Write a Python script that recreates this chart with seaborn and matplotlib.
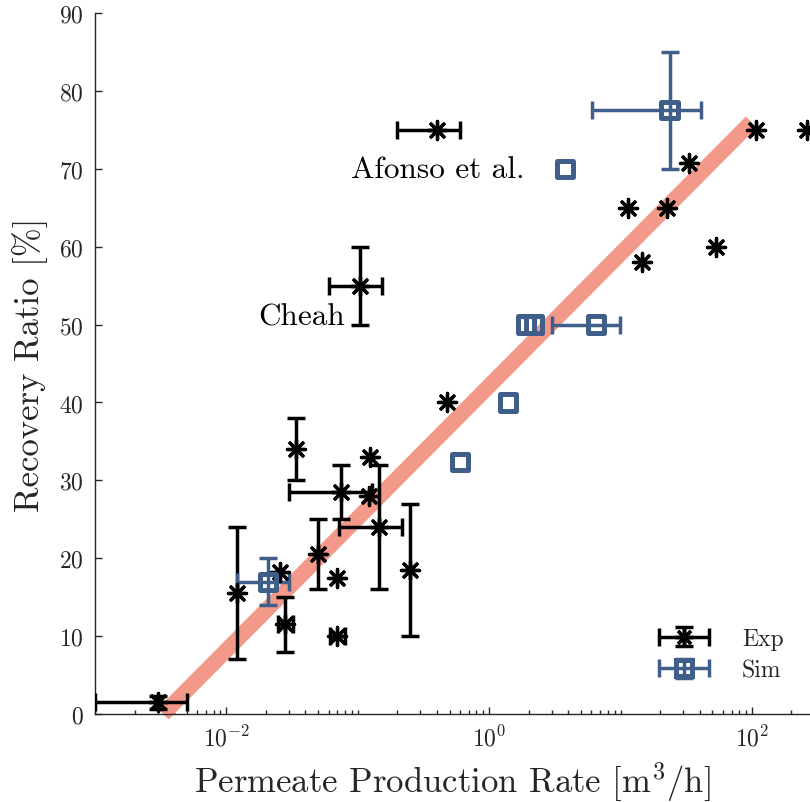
import numpy as np
import pandas as pd
import matplotlib
matplotlib.use("Agg")
import matplotlib.pyplot as plt
import seaborn as sns
from matplotlib.ticker import LogLocator, LogFormatterMathtext, MultipleLocator, NullFormatter
from matplotlib.lines import Line2D
from matplotlib.container import ErrorbarContainer
from matplotlib.legend_handler import HandlerErrorbar

nan = np.nan

# Experimental data (value, bar low end, bar high end)
exp_x = [0.0030, 0.012, 0.034, 0.074, 0.124, 0.122, 0.145, 0.050, 0.070, 0.0256,
         0.0279, 0.070, 0.25, 0.104, 0.40, 0.476, 11.3, 22.6, 33.0, 14.6, 53.7, 108, 263]
exp_y = [1.5, 15.5, 34.0, 28.5, 33.0, 28.0, 24.0, 20.5, 17.5, 18.2,
         11.5, 10.0, 18.5, 55.0, 75.0, 40.0, 65.0, 65.0, 70.8, 58.0, 60.0, 75.0, 75.0]
exp_x_lo = [0.001, nan, nan, 0.030, nan, nan, 0.072, nan, nan, nan,
            0.0246, 0.0615, nan, 0.060, 0.198, nan, nan, nan, nan, nan, nan, nan, nan]
exp_x_hi = [0.005, nan, nan, 0.129, nan, nan, 0.216, nan, nan, nan,
            0.0319, 0.080, nan, 0.152, 0.60, nan, nan, nan, nan, nan, nan, nan, nan]
exp_y_lo = [0.65, 7.0, 30.0, 25.0, nan, nan, 16.0, 16.0, nan, nan,
            8.0, nan, 10.0, 50.0, nan, nan, nan, nan, nan, nan, nan, nan, nan]
exp_y_hi = [2.35, 24.0, 38.0, 32.0, nan, nan, 32.0, 25.0, nan, nan,
            15.0, nan, 27.0, 60.0, nan, nan, nan, nan, nan, nan, nan, nan, nan]

# Simulation data
sim_x = [0.0208, 1.91, 2.20, 6.53, 1.39, 0.60, 3.75, 23.6]
sim_y = [17.0, 50.0, 50.0, 50.0, 40.0, 32.3, 70.0, 77.5]
sim_x_lo = [0.0120, nan, nan, 3.0, nan, nan, nan, 6.06]
sim_x_hi = [0.030, nan, nan, 9.95, nan, nan, nan, 41.2]
sim_y_lo = [14.0, nan, nan, nan, nan, nan, nan, 70.0]
sim_y_hi = [20.0, nan, nan, nan, nan, nan, nan, 85.0]

# Trend line end points
fit_x = [0.0033, 99.0]
fit_y = [0.0, 76.0]

annot_text = ["Cheah", "Afonso et al."]
annot_x = [0.080, 1.85]
annot_y = [51.0, 70.0]

sns.set_theme(style="ticks")
plt.rcParams.update({
    "font.family": "cmr10",
    "mathtext.fontset": "cm",
    "axes.formatter.use_mathtext": True,
    "axes.unicode_minus": False,
})

GRAY = "#262626"
BLUE = "#3f5e8a"
SALMON = "#f3998a"
EB = dict(elinewidth=2.5, capsize=6.8, capthick=2.5)


def errs(v, lo, hi):
    v = np.asarray(v, float)
    return np.vstack([v - np.asarray(lo, float), np.asarray(hi, float) - v])


fig = plt.figure(figsize=(8.1, 8.03), dpi=100)
ax = fig.add_axes([95 / 810, 88 / 803, 715 / 810, 701 / 803])
ax.set_xscale("log")

fit_df = pd.DataFrame({"x": fit_x, "y": fit_y})
sns.lineplot(data=fit_df, x="x", y="y", ax=ax, color=SALMON, linewidth=11.2,
             solid_capstyle="butt", zorder=1, clip_on=False)

ax.errorbar(exp_x, exp_y,
            xerr=errs(exp_x, exp_x_lo, exp_x_hi),
            yerr=errs(exp_y, exp_y_lo, exp_y_hi),
            fmt="none", ecolor="black", zorder=3, **EB)
ax.errorbar(sim_x, sim_y,
            xerr=errs(sim_x, sim_x_lo, sim_x_hi),
            yerr=errs(sim_y, sim_y_lo, sim_y_hi),
            fmt="none", ecolor=BLUE, zorder=3, **EB)
exp_df = pd.DataFrame({"x": exp_x, "y": exp_y})
sim_df = pd.DataFrame({"x": sim_x, "y": sim_y})
sns.scatterplot(data=exp_df, x="x", y="y", ax=ax, marker=(8, 2, 0), s=170,
                color="black", edgecolor="black", linewidth=2.4, zorder=4, legend=False)
sns.scatterplot(data=sim_df, x="x", y="y", ax=ax, marker="s", s=135,
                facecolor="none", edgecolor=BLUE, linewidth=3.6, zorder=4, legend=False)

# Legend handles drawn as error-bar glyphs
h_exp = ax.errorbar([nan], [nan], xerr=[1], yerr=[1], fmt="none", ecolor="black", **EB)
h_sim = ax.errorbar([nan], [nan], xerr=[1], yerr=[1], fmt="none", ecolor=BLUE, **EB)
m_exp = Line2D([], [], linestyle="none", marker=(8, 2, 0), markersize=13,
               color="black", markeredgewidth=2.4)
m_sim = Line2D([], [], linestyle="none", marker="s", markersize=11.6,
               markerfacecolor="none", markeredgecolor=BLUE, markeredgewidth=3.6)
c_exp = ErrorbarContainer((m_exp, h_exp.lines[1], h_exp.lines[2]),
                          has_xerr=True, has_yerr=True, label="Exp")
c_sim = ErrorbarContainer((m_sim, h_sim.lines[1], h_sim.lines[2]),
                          has_xerr=True, has_yerr=True, label="Sim")
leg = ax.legend([c_exp, c_sim], ["Exp", "Sim"], loc="lower right",
                bbox_to_anchor=((793 - 95) / 715, (715 - 692) / 701),
                borderaxespad=0, frameon=False, fontsize=17,
                handlelength=2.3, handletextpad=1.3, labelspacing=0.4,
                handler_map={ErrorbarContainer: HandlerErrorbar(xerr_size=1.05, yerr_size=0.4)})

for t, x, y in zip(annot_text, annot_x, annot_y):
    ax.text(x, y, t, ha="right", va="center", fontsize=22.5, color="black")

ax.set_xlim(1e-3, 10 ** 2.442)
ax.set_ylim(0, 90)
ax.yaxis.set_major_locator(MultipleLocator(10))
ax.xaxis.set_major_locator(LogLocator(base=100, numticks=10))
ax.xaxis.set_minor_locator(LogLocator(base=10, subs=np.arange(1, 10), numticks=100))
ax.xaxis.set_major_formatter(LogFormatterMathtext(base=10))
ax.xaxis.set_minor_formatter(NullFormatter())

ax.tick_params(which="major", direction="in", length=5, width=1, colors=GRAY,
               labelsize=17, pad=8)
ax.tick_params(which="minor", direction="in", length=3, width=1, colors=GRAY)
sns.despine(ax=ax)
for s in ("left", "bottom"):
    ax.spines[s].set_color(GRAY)
    ax.spines[s].set_linewidth(1.0)

ax.set_xlabel(r"Permeate Production Rate [m$^3$/h]", fontsize=25, color=GRAY, labelpad=6)
ax.set_ylabel("Recovery Ratio [%]", fontsize=25, color=GRAY, labelpad=8)

fig.savefig("out.png", dpi=100)
